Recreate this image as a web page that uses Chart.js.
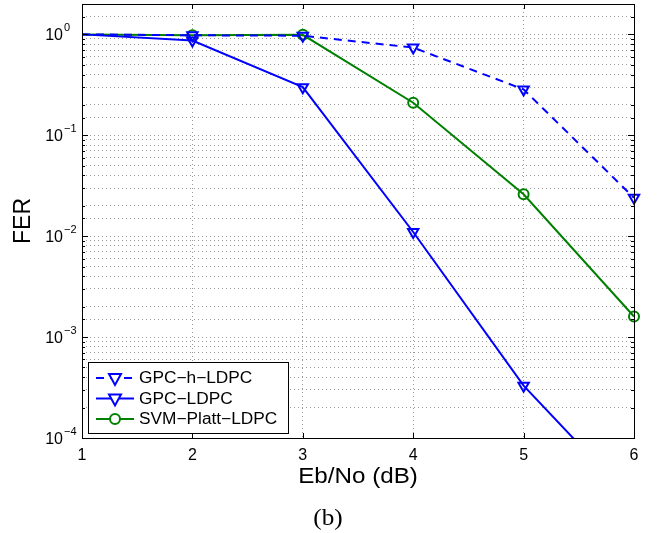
<!DOCTYPE html>
<html>
<head>
<meta charset="utf-8">
<script src="https://cdn.jsdelivr.net/npm/chart.js@4/dist/chart.umd.min.js"></script>
<style>
  body { margin: 0; background: #fff; }
  #wrap { width: 664px; height: 533px; }
</style>
</head>
<body>
<div id="wrap"><canvas id="fer"></canvas></div>
<script>
// Eb/No (dB) on the x axis
const ebno = [1, 2, 3, 4, 5, 6];
// frame error rate of each decoder
const gpcH = [1.0, 0.98, 0.97, 0.74, 0.285, 0.024];
const gpc = [1.0, 0.87, 0.30, 0.011, 0.00033, 0.000023];
const svm = [1.0, 0.98, 0.99, 0.21, 0.026, 0.0016];
const names = ['GPC\u2212h\u2212LDPC', 'GPC\u2212LDPC', 'SVM\u2212Platt\u2212LDPC'];
const xTicks = [1, 2, 3, 4, 5, 6];
const yDecades = [-4, -3, -2, -1, 0];
const xTitle = 'Eb/No (dB)';
const caption = '(b)';

const font = 'Liberation Sans, Arial, sans-serif';
const marks = [0, 6, 6, 6, 6, 6]; // no marker drawn at 1 dB

// text a little wider than the font, like the exported figure
function wideText(ctx, text, x, y, sx) {
  ctx.save();
  ctx.translate(x, y);
  ctx.scale(sx, 1);
  ctx.fillText(text, 0, 0);
  ctx.restore();
}

// MATLAB-like box, inward ticks, 10^n labels, titles and the legend inside the axes
const matlabBox = {
  id: 'matlabBox',
  afterDraw(chart) {
    const ctx = chart.ctx;
    const a = chart.chartArea;
    const xs = chart.scales.x, ys = chart.scales.y;
    ctx.save();
    ctx.strokeStyle = '#000';
    ctx.lineWidth = 1;
    ctx.setLineDash([]);
    ctx.beginPath();
    xTicks.forEach(v => {
      const px = Math.round(xs.getPixelForValue(v)) + 0.5;
      ctx.moveTo(px, a.bottom); ctx.lineTo(px, a.bottom - 5);
      ctx.moveTo(px, a.top); ctx.lineTo(px, a.top + 5);
    });
    ys.ticks.forEach(t => {
      const lg = Math.log10(t.value);
      const major = Math.abs(lg - Math.round(lg)) < 1e-6;
      const len = major ? 6 : 3;
      const py = Math.round(ys.getPixelForValue(t.value)) + 0.5;
      ctx.moveTo(a.left, py); ctx.lineTo(a.left + len, py);
      ctx.moveTo(a.right, py); ctx.lineTo(a.right - len, py);
    });
    ctx.stroke();
    ctx.strokeRect(Math.round(a.left) + 0.5, Math.round(a.top) + 0.5,
      Math.round(a.right - a.left), Math.round(a.bottom - a.top));

    // y tick labels as 10 with a raised exponent
    ctx.fillStyle = '#000';
    ctx.textBaseline = 'alphabetic';
    yDecades.forEach(e => {
      const py = ys.getPixelForValue(Math.pow(10, e));
      ctx.font = '16px ' + font;
      ctx.textAlign = 'right';
      ctx.fillText('10', a.left - 19, py + 6);
      ctx.font = '11px ' + font;
      ctx.textAlign = 'left';
      ctx.fillText(e === 0 ? '0' : '\u2212' + (-e), a.left - 18, py - 3);
    });

    // x axis title and caption
    ctx.textAlign = 'center';
    ctx.textBaseline = 'middle';
    ctx.font = '22px ' + font;
    wideText(ctx, xTitle, 358, 477, 1.1);
    ctx.font = '24px Liberation Serif, Times New Roman, serif';
    wideText(ctx, caption, 328, 519, 1.05);

    // legend
    const lx = a.left + 6, ly = a.bottom - 76, lw = 200, lh = 71;
    ctx.fillStyle = '#fff';
    ctx.fillRect(lx, ly, lw, lh);
    ctx.strokeRect(Math.round(lx) + 0.5, Math.round(ly) + 0.5, lw, lh);
    chart.data.datasets.forEach((ds, i) => {
      const y = ly + 16 + i * 20.5;
      ctx.strokeStyle = ds.borderColor;
      ctx.lineWidth = 2;
      ctx.setLineDash(ds.borderDash || []);
      ctx.beginPath();
      ctx.moveTo(lx + 8, y); ctx.lineTo(lx + 46, y);
      ctx.stroke();
      ctx.setLineDash([]);
      ctx.beginPath();
      const cx = lx + 27;
      if (ds.pointStyle === 'circle') {
        ctx.arc(cx, y, 5, 0, Math.PI * 2);
      } else {
        ctx.moveTo(cx - 6, y - 4); ctx.lineTo(cx + 6, y - 4); ctx.lineTo(cx, y + 7); ctx.closePath();
      }
      ctx.fillStyle = '#fff';
      ctx.fill();
      ctx.stroke();
      ctx.fillStyle = '#000';
      ctx.font = '16px ' + font;
      ctx.textAlign = 'left';
      ctx.textBaseline = 'middle';
      wideText(ctx, ds.label, lx + 51, y + 1, 1.08);
    });
    ctx.restore();
  }
};

function series(label, data, color, dash, style) {
  return {
    label: label,
    data: ebno.map((x, i) => ({ x: x, y: data[i] })),
    borderColor: color,
    backgroundColor: 'rgba(255,255,255,0)',
    borderWidth: 2,
    borderDash: dash,
    pointStyle: style,
    pointRotation: style === 'triangle' ? 180 : 0,
    pointRadius: style === 'circle' ? marks.map(r => r ? 5 : 0) : marks,
    pointBorderWidth: 2,
    pointBackgroundColor: 'rgba(255,255,255,0)',
    pointBorderColor: color,
    tension: 0,
    clip: { left: 10, top: 10, right: 10, bottom: 0 }
  };
}

new Chart(document.getElementById('fer'), {
  type: 'line',
  data: {
    datasets: [
      series(names[0], gpcH, '#0000ff', [8, 6], 'triangle'),
      series(names[1], gpc, '#0000ff', [], 'triangle'),
      series(names[2], svm, '#008000', [], 'circle')
    ]
  },
  options: {
    responsive: true,
    maintainAspectRatio: false,
    animation: false,
    layout: { autoPadding: false, padding: { left: 0, right: 30, top: 4, bottom: 34 } },
    plugins: {
      legend: { display: false },
      tooltip: { enabled: false }
    },
    scales: {
      x: {
        type: 'linear',
        min: 1,
        max: 6,
        afterBuildTicks: s => { s.ticks = xTicks.map(v => ({ value: v })); },
        ticks: { color: '#000', font: { family: font, size: 16 }, padding: 8 },
        grid: { color: '#9a9a9a', lineWidth: 1, drawTicks: false },
        border: { display: false, dash: [1, 3] },
        afterFit: s => { s.height = 61; }
      },
      y: {
        type: 'logarithmic',
        min: 1e-4,
        max: 2,
        ticks: { display: false, autoSkip: false },
        grid: { color: '#9a9a9a', lineWidth: 1, drawTicks: false },
        border: { display: false, dash: [1, 3] },
        title: { display: true, text: 'FER', color: '#000', font: { family: font, size: 23 }, padding: { top: 10, bottom: 0 } },
        afterFit: s => { s.width = 82; s.paddingTop = 0; s.paddingBottom = 0; }
      }
    }
  },
  plugins: [matlabBox]
});
</script>
</body>
</html>
